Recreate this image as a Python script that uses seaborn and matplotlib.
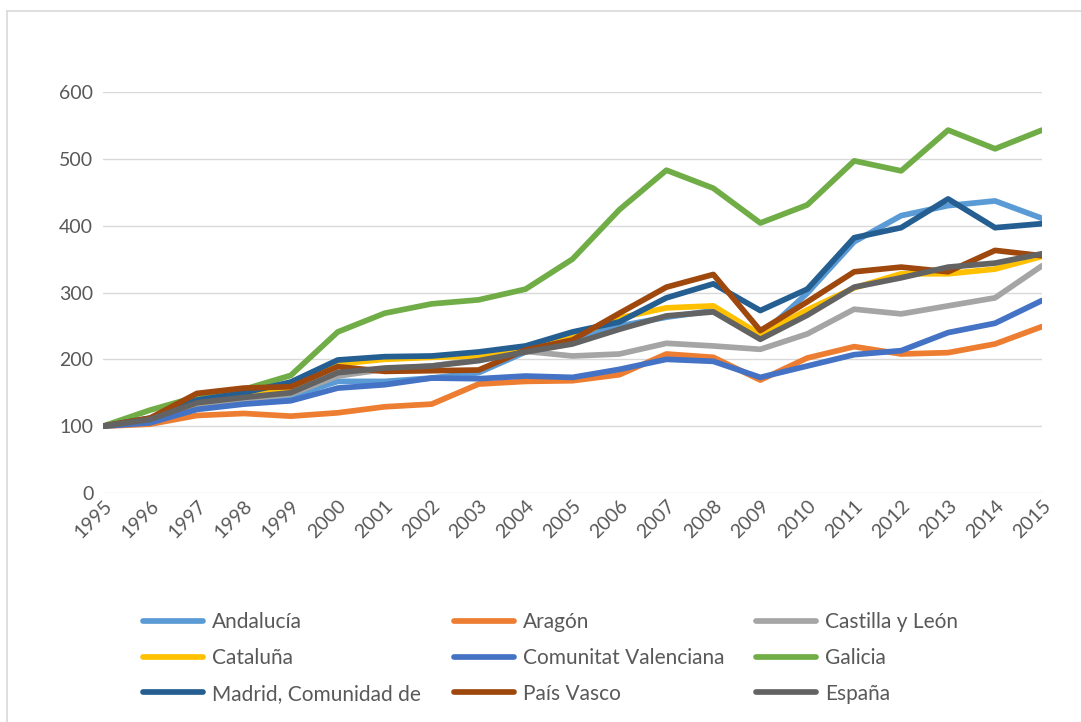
import pandas as pd
import matplotlib.pyplot as plt
import seaborn as sns
from matplotlib.lines import Line2D

years = list(range(1995, 2016))

andalucia = [100, 108, 129, 138, 145, 167, 167, 172, 180, 211, 230, 250, 263, 273, 235, 299, 376, 415, 430, 437, 411]
aragon = [100, 103, 116, 119, 115, 120, 129, 133, 163, 167, 168, 177, 208, 203, 169, 202, 219, 208, 210, 223, 249]
castilla_leon = [100, 108, 130, 140, 148, 175, 185, 190, 200, 212, 205, 208, 224, 220, 215, 238, 275, 268, 280, 292, 340]
cataluna = [100, 110, 135, 145, 155, 193, 200, 203, 205, 215, 234, 262, 277, 280, 237, 274, 307, 328, 328, 335, 354]
valenciana = [100, 105, 125, 133, 138, 157, 162, 172, 171, 175, 173, 185, 200, 197, 173, 190, 207, 213, 240, 254, 288]
galicia = [100, 124, 144, 155, 176, 241, 269, 283, 289, 305, 350, 424, 483, 456, 404, 431, 497, 482, 543, 515, 543]
madrid = [100, 112, 139, 150, 166, 199, 204, 205, 211, 220, 241, 256, 292, 313, 273, 305, 382, 397, 440, 397, 403]
pais_vasco = [100, 112, 149, 157, 159, 189, 182, 183, 184, 214, 229, 269, 308, 327, 243, 286, 331, 338, 331, 363, 355]
espana = [100, 110, 135, 143, 150, 180, 187, 190, 198, 211, 223, 245, 265, 271, 230, 266, 308, 322, 338, 344, 358]

names = ["Andalucía", "Aragón", "Castilla y León", "Cataluña", "Comunitat Valenciana",
         "Galicia", "Madrid, Comunidad de", "País Vasco", "España"]
series = [andalucia, aragon, castilla_leon, cataluna, valenciana,
          galicia, madrid, pais_vasco, espana]
colors = ["#5B9BD5", "#ED7D31", "#A5A5A5", "#FFC000", "#4472C4",
          "#70AD47", "#255E91", "#9E480E", "#636363"]

rows = []
for name, vals in zip(names, series):
    for y, v in zip(years, vals):
        rows.append({"year": y, "value": v, "region": name})
df = pd.DataFrame(rows)

sns.set_style("white")
plt.rcParams['font.family'] = ['Lato', 'DejaVu Sans']
text_col = "#595959"

fig = plt.figure(figsize=(10.81, 7.22), dpi=100)
ax = fig.add_axes([103 / 1081, 1 - 493 / 722, (1042 - 103) / 1081, (493 - 92) / 722])

sns.lineplot(data=df, x="year", y="value", hue="region", hue_order=names,
             palette=colors, linewidth=4.1, ax=ax, legend=False)

ax.set_xlim(1995, 2015)
ax.set_ylim(0, 600)
ax.set_yticks(range(0, 601, 100))
ax.set_xticks(years)
ax.set_xticklabels([str(y) for y in years], rotation=45, ha="right",
                   rotation_mode="anchor", fontsize=14, color=text_col)
ax.tick_params(axis="y", labelsize=14, labelcolor=text_col, length=0, pad=7)
ax.tick_params(axis="x", length=0, pad=3)
ax.grid(axis="y", color="#D9D9D9", linewidth=1.0)
ax.set_axisbelow(True)
for s in ax.spines.values():
    s.set_visible(False)
ax.set_xlabel("")
ax.set_ylabel("")

# legend: three columns, each its own legend, row-wise order
col_x = [143, 454, 756]
for c in range(3):
    idx = [c, c + 3, c + 6]
    hs = [Line2D([], [], color=colors[i], linewidth=4.1) for i in idx]
    fig.legend(hs, [names[i] for i in idx], loc="upper left",
               bbox_to_anchor=(col_x[c] / 1081, 1 - 612 / 722),
               frameon=False, fontsize=15, handlelength=2.9, handletextpad=0.4,
               labelspacing=0.76, borderpad=0, borderaxespad=0,
               labelcolor=text_col)

# chart border (top and left visible)
fig.add_artist(Line2D([7 / 1081, 1], [1 - 11 / 722, 1 - 11 / 722], color="#D9D9D9", linewidth=1.2))
fig.add_artist(Line2D([7 / 1081, 7 / 1081], [0, 1 - 11 / 722], color="#D9D9D9", linewidth=1.2))

fig.savefig("out.png", dpi=100)
